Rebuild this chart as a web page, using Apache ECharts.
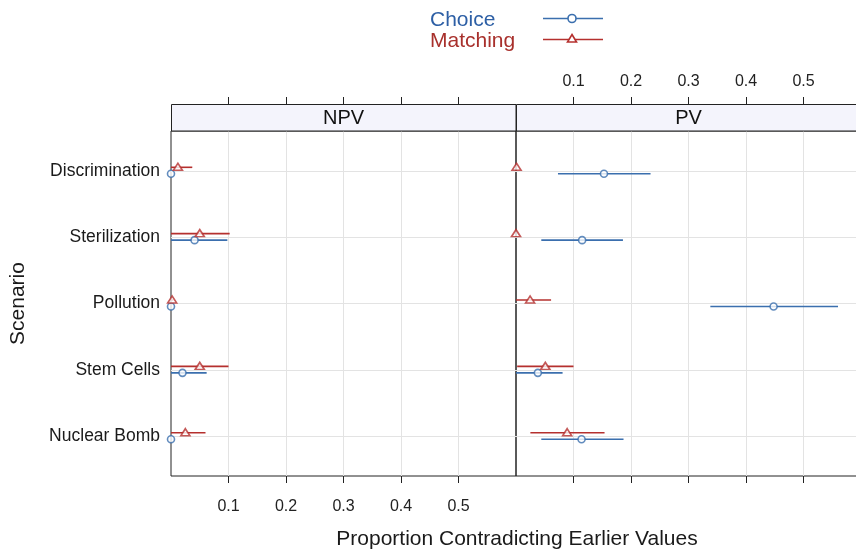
<!DOCTYPE html>
<html>
<head>
<meta charset="utf-8">
<script src="https://cdn.jsdelivr.net/npm/echarts@6/dist/echarts.min.js"></script>
<style>
html,body{margin:0;padding:0;background:#fff;}
#c{width:856px;height:552px;}
</style>
</head>
<body>
<div id="c"></div>
<script>
// ---- data ----
const categories = ['Discrimination', 'Sterilization', 'Pollution', 'Stem Cells', 'Nuclear Bomb'];
const panels = ['NPV', 'PV'];
const xTicks = [0.1, 0.2, 0.3, 0.4, 0.5];

const npvChoice      = [0.000, 0.041, 0.000, 0.020, 0.000];
const npvChoiceLo    = [0.000, -0.016, 0.000, -0.022, 0.000];
const npvChoiceHi    = [0.000, 0.098, 0.000, 0.062, 0.002];
const npvMatching    = [0.012, 0.050, 0.002, 0.050, 0.025];
const npvMatchingLo  = [-0.013, -0.002, 0.000, 0.000, -0.010];
const npvMatchingHi  = [0.037, 0.102, 0.004, 0.100, 0.060];

const pvChoice       = [0.153, 0.115, 0.448, 0.038, 0.114];
const pvChoiceLo     = [0.073, 0.044, 0.338, -0.005, 0.044];
const pvChoiceHi     = [0.234, 0.186, 0.560, 0.081, 0.187];
const pvMatching     = [0.001, 0.000, 0.0245, 0.051, 0.089];
const pvMatchingLo   = [0.000, 0.000, -0.012, 0.002, 0.025];
const pvMatchingHi   = [0.002, 0.000, 0.061, 0.100, 0.154];

// ---- styling ----
const BLUE = '#3b6fae';
const RED = '#b5302e';
const BLUE_TXT = '#2d5fa5';
const RED_TXT = '#a8302c';
const FONT = 'Liberation Sans, Arial, Helvetica, sans-serif';
const XMIN = 0, XMAX = 0.6;
const catIdx = categories.map((c, i) => i + 1);

const chart = echarts.init(document.getElementById('c'), null, {renderer: 'canvas'});

function errRender(color, dy) {
  return function (params, api) {
    const y = api.value(2);
    const lo = Math.max(api.value(0), XMIN);
    const hi = Math.min(api.value(1), XMAX);
    const p1 = api.coord([lo, y]);
    const p2 = api.coord([hi, y]);
    return {
      type: 'line',
      shape: {x1: p1[0], y1: p1[1] + dy, x2: p2[0], y2: p2[1] + dy},
      style: {stroke: color, lineWidth: 1.6}
    };
  };
}

function errData(lo, hi) { return lo.map((l, i) => [l, hi[i], catIdx[i]]); }
function ptData(v) { return v.map((x, i) => [x, catIdx[i]]); }

const grids = [
  {left: 171, top: 131, width: 345, height: 345, show: true, borderColor: '#222', borderWidth: 1,
   backgroundColor: 'transparent', containLabel: false, outerBoundsMode: 'none'},
  {left: 516, top: 131, width: 345, height: 345, show: true, borderColor: '#222', borderWidth: 1,
   backgroundColor: 'transparent', containLabel: false, outerBoundsMode: 'none'}
];

const xAxes = [];
const yAxes = [];
[0, 1].forEach(g => {
  xAxes.push({
    type: 'value', gridIndex: g, position: 'bottom', min: XMIN, max: XMAX,
    axisLine: {show: false},
    axisTick: {show: true, length: 7, customValues: xTicks, lineStyle: {color: '#222', width: 1}},
    axisLabel: {show: g === 0, customValues: xTicks, margin: 23, fontSize: 16, color: '#222', fontFamily: FONT,
                formatter: v => String(v)},
    splitLine: {show: true, lineStyle: {color: '#e3e3e3', width: 1}}
  });
  xAxes.push({
    type: 'value', gridIndex: g, position: 'top', offset: 27, min: XMIN, max: XMAX,
    axisLine: {show: false},
    axisTick: {show: true, length: 7, customValues: xTicks, lineStyle: {color: '#222', width: 1}},
    axisLabel: {show: g === 1, customValues: xTicks, margin: 14, fontSize: 16, color: '#222', fontFamily: FONT,
                formatter: v => String(v)},
    splitLine: {show: false}
  });
  yAxes.push({
    type: 'value', gridIndex: g, min: 0.4, max: 5.6, inverse: true,
    axisLine: {show: false},
    axisTick: {show: false, customValues: catIdx},
    axisLabel: {show: g === 0, customValues: catIdx, margin: 11, fontSize: 17.5, color: '#1a1a1a', fontFamily: FONT,
                formatter: v => categories[Math.round(v) - 1] || ''},
    splitLine: {show: true, lineStyle: {color: '#e3e3e3', width: 1}},
    name: g === 0 ? 'Scenario' : '',
    nameLocation: 'middle', nameGap: 142, nameRotate: 90,
    nameTextStyle: {fontSize: 21, color: '#1a1a1a', fontFamily: FONT}
  });
});

const panelData = [
  {c: npvChoice, cLo: npvChoiceLo, cHi: npvChoiceHi, m: npvMatching, mLo: npvMatchingLo, mHi: npvMatchingHi},
  {c: pvChoice, cLo: pvChoiceLo, cHi: pvChoiceHi, m: pvMatching, mLo: pvMatchingLo, mHi: pvMatchingHi}
];

const series = [];
panelData.forEach((d, g) => {
  const xi = g * 2, yi = g;
  series.push({type: 'custom', xAxisIndex: xi, yAxisIndex: yi, renderItem: errRender(BLUE, 3), data: errData(d.cLo, d.cHi), clip: true, silent: true, z: 2});
  series.push({type: 'custom', xAxisIndex: xi, yAxisIndex: yi, renderItem: errRender(RED, -3.5), data: errData(d.mLo, d.mHi), clip: true, silent: true, z: 2});
  series.push({type: 'scatter', xAxisIndex: xi, yAxisIndex: yi, data: ptData(d.c), symbol: 'circle', symbolSize: 7,
    symbolOffset: [0, 3], itemStyle: {color: '#fff', borderColor: BLUE, borderWidth: 1.6}, z: 3, silent: true});
  series.push({type: 'scatter', xAxisIndex: xi, yAxisIndex: yi, data: ptData(d.m), symbol: 'triangle', symbolSize: [9, 7],
    symbolOffset: [0, -4], itemStyle: {color: '#fff', borderColor: RED, borderWidth: 1.6}, z: 3, silent: true});
});

const graphic = [
  {type: 'rect', shape: {x: 171.5, y: 104.5, width: 344.5, height: 26.5}, style: {fill: '#f4f4fc', stroke: '#222', lineWidth: 1}, z: 1},
  {type: 'rect', shape: {x: 516.5, y: 104.5, width: 345, height: 26.5}, style: {fill: '#f4f4fc', stroke: '#222', lineWidth: 1}, z: 1},
  {type: 'text', x: 343.5, y: 118, style: {text: panels[0], fontSize: 20, fill: '#111', fontFamily: FONT, align: 'center', verticalAlign: 'middle'}, z: 5},
  {type: 'text', x: 688.5, y: 118, style: {text: panels[1], fontSize: 20, fill: '#111', fontFamily: FONT, align: 'center', verticalAlign: 'middle'}, z: 5},
  {type: 'text', x: 517, y: 539, style: {text: 'Proportion Contradicting Earlier Values', fontSize: 21, fill: '#1a1a1a', fontFamily: FONT, align: 'center', verticalAlign: 'middle'}},
  {type: 'text', x: 430, y: 20, style: {text: 'Choice', fontSize: 21, fill: BLUE_TXT, fontFamily: FONT, align: 'left', verticalAlign: 'middle'}},
  {type: 'text', x: 430, y: 41, style: {text: 'Matching', fontSize: 21, fill: RED_TXT, fontFamily: FONT, align: 'left', verticalAlign: 'middle'}},
  {type: 'line', shape: {x1: 543, y1: 18.5, x2: 603, y2: 18.5}, style: {stroke: BLUE, lineWidth: 1.5}},
  {type: 'circle', shape: {cx: 572, cy: 18.5, r: 4}, style: {fill: '#fff', stroke: BLUE, lineWidth: 1.6}},
  {type: 'line', shape: {x1: 543, y1: 39.5, x2: 603, y2: 39.5}, style: {stroke: RED, lineWidth: 1.5}},
  {type: 'polygon', shape: {points: [[572, 34.5], [576.5, 42], [567.5, 42]]}, style: {fill: '#fff', stroke: RED, lineWidth: 1.6}}
];

chart.setOption({
  backgroundColor: '#fff',
  animation: false,
  grid: grids,
  xAxis: xAxes,
  yAxis: yAxes,
  series: series,
  graphic: graphic
});
</script>
</body>
</html>
